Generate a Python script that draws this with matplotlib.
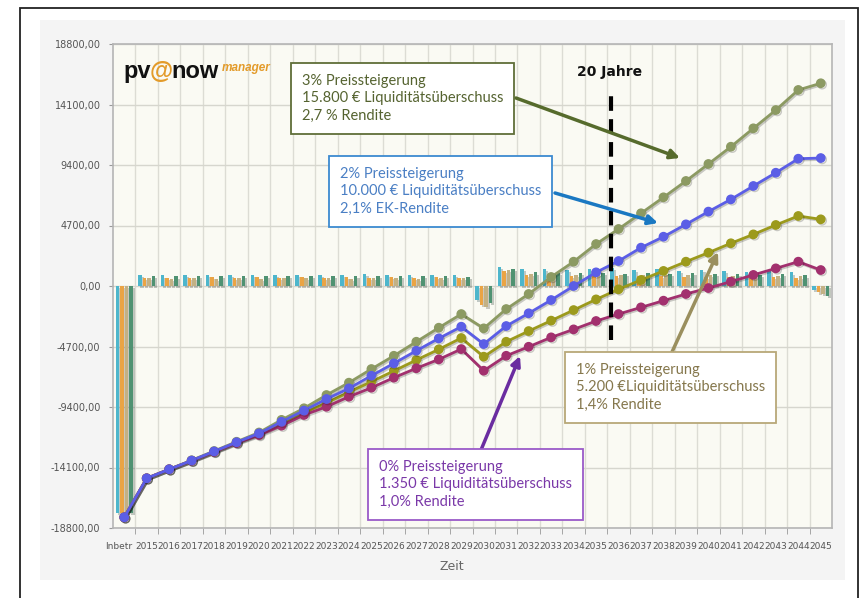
import numpy as np
import matplotlib.pyplot as plt
import matplotlib.patheffects as pe
import matplotlib.transforms as mtrans
from matplotlib.patches import Rectangle

# Kategorien: Inbetriebnahme + Betriebsjahre
categories = ['Inbetr'] + [str(y) for y in range(2015, 2046)]

# kumulierte Liquidität je Preissteigerungs-Szenario
cum_3pct = [-17970, -14940, -14240, -13540, -12820, -12100, -11380, -10400, -9500, -8470,
            -7510, -6450, -5420, -4330, -3240, -2180, -3290, -1790, -620, 700,
            1890, 3260, 4430, 5650, 6890, 8160, 9480, 10820, 12250, 13670, 15230, 15750]
cum_2pct = [-17970, -14940, -14240, -13560, -12850, -12140, -11450, -10550, -9680, -8780,
            -7950, -6970, -6010, -5030, -4070, -3160, -4510, -3110, -2120, -1090,
            0, 1060, 1940, 2980, 3830, 4790, 5780, 6730, 7770, 8800, 9890, 9940]
cum_1pct = [-17970, -14940, -14240, -13570, -12870, -12170, -11520, -10700, -9850, -9080,
            -8250, -7430, -6600, -5750, -4920, -4040, -5490, -4330, -3500, -2690,
            -1870, -1040, -260, 470, 1170, 1890, 2590, 3320, 4010, 4740, 5440, 5180]
cum_0pct = [-17970, -14940, -14240, -13580, -12890, -12200, -11580, -10850, -10020, -9380,
            -8600, -7900, -7120, -6390, -5700, -4900, -6580, -5420, -4720, -3990,
            -3370, -2720, -2180, -1660, -1140, -620, -160, 340, 860, 1370, 1890, 1240]

# jährlicher Cashflow (Balken)
flow_a = [-17600, 850, 820, 860, 840, 880, 830, 870, 850, 880, 860, 900, 870, 890, 880, 850,
          -1100, 1500, 1350, 1300, 1250, 1300, 1400, 1250, 1300, 1200, 1250, 1150, 1100, 1150, 1050, -300]
flow_b = [-17600, 650, 640, 660, 680, 650, 700, 640, 680, 660, 700, 650, 680, 640, 700, 660,
          -1500, 1200, 850, 800, 780, 820, 760, 740, 780, 700, 720, 680, 660, 700, 640, -500]
flow_c = [-17600, 600, 560, 620, 580, 610, 570, 600, 590, 620, 580, 600, 610, 570, 600, 590,
          -1600, 1250, 950, 900, 880, 900, 860, 840, 870, 820, 830, 800, 790, 760, 740, -650]
flow_d = [-17600, 760, 740, 780, 750, 770, 760, 790, 750, 770, 780, 760, 770, 780, 750, 720,
          -1300, 1350, 1050, 1000, 980, 1020, 960, 1000, 950, 980, 900, 940, 880, 900, 820, -800]

yticks = [-18800, -14100, -9400, -4700, 0, 4700, 9400, 14100, 18800]

W, H = 864, 598
fig = plt.figure(figsize=(W / 100, H / 100), dpi=100)
fig.patch.set_facecolor('white')

# Hintergrund-Panel und Rahmen
fig.add_artist(Rectangle((40 / W, 1 - 580 / H), 805 / W, 560 / H, transform=fig.transFigure,
                         fc='#f4f4f4', ec='none', zorder=-10))
fig.add_artist(Rectangle((20 / W, -0.05), 838 / W, 1.05 - 8 / H, transform=fig.transFigure,
                         fc='none', ec='#222222', lw=1.3, zorder=-5))

ax = fig.add_axes([113 / W, 1 - 528 / H, (832 - 113) / W, (528 - 44) / H])
ax.set_facecolor('#fafaf3')

x = np.arange(len(categories))

# Balken
shadow = [pe.SimplePatchShadow(offset=(1.5, -1.5), alpha=0.25), pe.Normal()]
bw = 0.16
for off, vals, col in [(-0.3, flow_a, '#4db6cc'), (-0.1, flow_b, '#eaa444'),
                       (0.1, flow_c, '#c3b184'), (0.3, flow_d, '#4f9272')]:
    bars = ax.bar(x + off, vals, width=bw, color=col, zorder=2)
    for b in bars:
        b.set_path_effects(shadow)

# Linien
lshadow = [pe.SimpleLineShadow(offset=(1, -1), alpha=0.2), pe.Normal()]
for vals, col in [(cum_3pct, '#8c9a62'), (cum_1pct, '#9c9a1c'),
                  (cum_0pct, '#a2306e'), (cum_2pct, '#5b5ee6')]:
    ax.plot(x, vals, color=col, lw=2, marker='o', ms=6, mec=col, zorder=3,
            path_effects=lshadow)

ax.set_xlim(-0.5, len(categories) - 0.5)
ax.set_ylim(-18800, 18800)
ax.set_yticks(yticks)
ax.set_yticklabels([f'{v},00' for v in yticks], fontsize=7, color='#555555')
ax.set_xticks(x)
ax.set_xticklabels(categories, fontsize=6.5, color='#555555')
ax.set_xticks(x[:-1] + 0.5, minor=True)
ax.tick_params(axis='x', which='major', length=0, pad=10)
ax.tick_params(axis='x', which='minor', length=4, color='#999999')
ax.tick_params(axis='y', length=3, color='#999999', pad=6)

# erstes Label etwas nach links, damit es nicht in "2015" läuft
first = ax.get_xticklabels()[0]
first.set_transform(first.get_transform() +
                    mtrans.ScaledTranslation(-4 / 72, 0, fig.dpi_scale_trans))

ax.grid(axis='y', color='#d6d6ce', lw=1, zorder=0)
ax.grid(axis='x', which='minor', color='#dcdcd4', lw=1, zorder=0)
for s in ax.spines.values():
    s.set_color('#b5b5b5')
    s.set_linewidth(1.2)

fig.text(452 / W, 1 - 567 / H, 'Zeit', fontsize=9, color='#666666', ha='center', va='center')

# 20-Jahre-Markierung
ax.axvline(21.65, ymin=(528 - 340) / 484, ymax=(528 - 88) / 484, color='black',
           lw=3, ls=(0, (3.5, 2)), zorder=4)
fig.text(610 / W, 1 - 72 / H, '20 Jahre', fontsize=10, fontweight='bold',
         ha='center', va='center', color='#111111')

# Logo
fig.canvas.draw()
r = fig.canvas.get_renderer()
xpos = 123
for txt, col, kw in [('pv', '#111111', dict(fontweight='bold', fontsize=17)),
                     ('@', '#e39b2a', dict(fontweight='bold', fontsize=17)),
                     ('now', '#111111', dict(fontweight='bold', fontsize=17)),
                     ('manager', '#e39b2a', dict(style='italic', fontweight='bold', fontsize=8.5))]:
    ypos = 78 if txt != 'manager' else 71
    t = fig.text(xpos / W, 1 - ypos / H, txt, color=col, family='Liberation Sans',
                 ha='left', va='baseline', **kw)
    xpos += t.get_window_extent(r).width + (3 if txt == 'now' else -1)


def note(px, py, lines, tcol, ecol):
    fig.text(px / W, 1 - py / H, '\n'.join(lines), family='Lato', fontsize=10.5,
             color=tcol, ha='left', va='top', linespacing=1.3, zorder=6,
             bbox=dict(boxstyle='square,pad=0.75', fc='white', ec=ecol, lw=1.3))


def arrow(p0, p1, col):
    ax.annotate('', xy=(p1[0], H - p1[1]), xycoords='figure pixels',
                xytext=(p0[0], H - p0[1]), textcoords='figure pixels',
                annotation_clip=False, zorder=7,
                arrowprops=dict(arrowstyle='-|>', color=col, lw=2.5, mutation_scale=14,
                                shrinkA=0, shrinkB=0))


arrow((516, 98), (680, 158), '#566b2c')
arrow((555, 193), (658, 223), '#1a78c2')
arrow((672, 352), (718, 252), '#9a8f5e')
arrow((481, 450), (520, 356), '#6a2ca0')

note(302, 74, ['3% Preissteigerung', '15.800 € Liquiditätsüberschuss', '2,7 % Rendite'],
     '#556330', '#5f6e38')
note(340, 167, ['2% Preissteigerung', '10.000 € Liquiditätsüberschuss', '2,1% EK-Rendite'],
     '#4a7fc4', '#3c8ad0')
note(576, 363, ['1% Preissteigerung', '5.200 €Liquiditätsüberschuss', '1,4% Rendite'],
     '#85774c', '#b8a878')
note(379, 460, ['0% Preissteigerung', '1.350 € Liquiditätsüberschuss', '1,0% Rendite'],
     '#7a38a8', '#9a5ac8')

fig.savefig('out.png', dpi=100)
